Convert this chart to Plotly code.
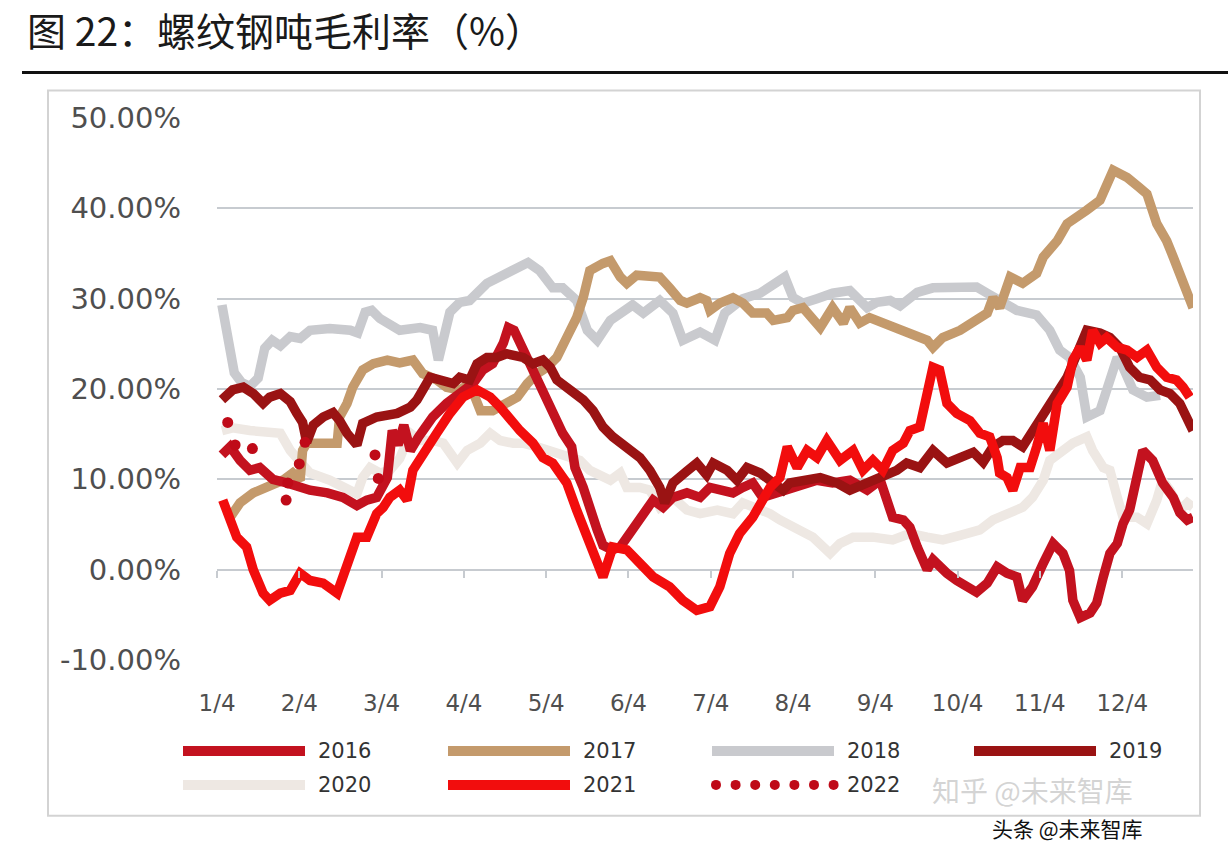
import plotly.graph_objects as go

# ---------------- data (percent) ----------------
month_labels = ["1/4", "2/4", "3/4", "4/4", "5/4", "6/4", "7/4", "8/4", "9/4", "10/4", "11/4", "12/4"]
month_pos = list(range(12))
y_tickvals = [-10, 0, 10, 20, 30, 40, 50]
y_ticktext = ["-10.00%", "0.00%", "10.00%", "20.00%", "30.00%", "40.00%", "50.00%"]

x2016 = [0.06, 0.16, 0.28, 0.40, 0.52, 0.68, 0.85, 1.01, 1.13, 1.34, 1.53, 1.70, 1.82, 1.94,
         2.07, 2.13, 2.20, 2.27, 2.35, 2.45,
         2.62, 2.79, 2.95, 3.11, 3.23, 3.35, 3.48, 3.54, 3.61, 3.68,
         3.77, 3.89, 3.99, 4.08, 4.20, 4.31, 4.35, 4.45, 4.53, 4.62,
         4.69, 4.80, 4.90, 5.05, 5.18, 5.30, 5.42, 5.54, 5.71, 5.87,
         5.99, 6.11, 6.27, 6.39, 6.51, 6.63, 6.80, 6.93, 7.08, 7.29,
         7.48, 7.69, 7.90, 8.06, 8.14, 8.21, 8.34, 8.42, 8.51, 8.63,
         8.70, 8.78, 8.87, 8.99, 9.11, 9.23, 9.36, 9.48, 9.60, 9.72,
         9.79, 9.91, 10.04, 10.16, 10.28, 10.36, 10.40, 10.49, 10.61, 10.69,
         10.77, 10.85, 10.94, 11.01, 11.09, 11.18, 11.25, 11.37, 11.49, 11.62,
         11.70, 11.79, 11.86]
y2016 = [12.7, 13.6, 12.1, 11.0, 11.3, 10.0, 9.6, 9.1, 8.8, 8.5, 8.0, 7.1, 7.7, 8.0,
         10.2, 15.4, 13.8, 16.0, 13.2, 14.7,
         16.9, 18.4, 19.5, 20.6, 22.1, 22.8, 25.1, 26.8, 26.5, 25.1,
         23.5, 21.3, 19.5, 17.3, 15.1, 13.6, 11.3, 9.1, 6.6, 4.4,
         2.7, 2.2, 2.5, 4.4, 6.3, 7.7, 6.9, 8.0, 8.5, 8.0,
         9.1, 8.8, 8.5, 9.1, 9.6, 8.0, 8.5, 8.8, 9.3, 9.9,
         9.6, 9.9, 8.8, 9.9, 7.7, 5.8, 5.5, 4.7, 2.5, 0.0,
         1.1, 0.3, -0.4, -1.2, -1.9, -2.5, -1.5, 0.3, -0.4, -0.8,
         -3.4, -1.9, 0.7, 2.9, 1.8, -0.1, -3.4, -5.3, -4.8, -3.7,
         -0.8, 1.8, 2.9, 5.1, 6.6, 10.2, 13.2, 12.1, 9.6, 8.0,
         6.3, 5.5, 5.8]

x2017 = [0.16, 0.28, 0.44, 0.61, 0.80, 0.92, 1.01, 1.04, 1.09, 1.25,
         1.46, 1.49, 1.58, 1.65, 1.77, 1.90, 2.07, 2.22, 2.38, 2.50,
         2.67, 2.79, 2.95, 3.07, 3.20, 3.35, 3.52, 3.65, 3.77, 3.89,
         4.01, 4.13, 4.25, 4.37, 4.45, 4.53, 4.69, 4.78, 4.90, 4.98,
         5.10, 5.22, 5.38, 5.50, 5.63, 5.71, 5.87, 5.95, 5.99, 6.11,
         6.27, 6.39, 6.51, 6.68, 6.76, 6.93, 7.00, 7.12, 7.24, 7.33,
         7.48, 7.61, 7.69, 7.81, 7.93, 8.09, 8.30, 8.46, 8.63, 8.70,
         8.82, 9.03, 9.19, 9.36, 9.43, 9.51, 9.64, 9.79, 9.96, 10.04,
         10.21, 10.33, 10.57, 10.73, 10.89, 11.06, 11.21, 11.30, 11.42, 11.54,
         11.62, 11.70, 11.79, 11.86]
y2017 = [5.8, 7.4, 8.5, 9.2, 9.9, 10.7, 9.9, 13.2, 14.0, 14.0,
         14.0, 16.9, 18.4, 20.2, 22.1, 22.8, 23.2, 22.9, 23.2, 21.7,
         21.0, 20.2, 19.9, 20.6, 17.6, 17.6, 18.4, 19.1, 20.6, 21.7,
         22.4, 23.5, 25.7, 27.9, 30.1, 33.1, 33.9, 34.2, 32.4, 31.7,
         32.6, 32.6, 32.4, 31.2, 29.8, 29.5, 30.1, 29.8, 28.7, 29.5,
         30.1, 29.5, 28.4, 28.4, 27.6, 27.9, 28.7, 29.0, 27.9, 26.8,
         29.0, 27.3, 29.0, 27.3, 27.9, 27.3, 26.5, 25.9, 25.4, 24.6,
         25.7, 26.5, 27.3, 28.4, 30.1, 29.0, 32.4, 31.7, 32.8, 34.6,
         36.4, 38.3, 39.8, 40.9, 44.2, 43.4, 42.3, 41.6, 38.3, 36.4,
         34.6, 32.8, 31.2, 29.0]

x2018 = [0.06, 0.13, 0.21, 0.30, 0.40, 0.50, 0.58, 0.67, 0.77, 0.89,
         1.01, 1.13, 1.37, 1.62, 1.71, 1.80, 1.88, 1.98, 2.10, 2.22,
         2.47, 2.62, 2.69, 2.83, 2.95, 3.07, 3.28, 3.56, 3.78, 3.92,
         4.08, 4.20, 4.37, 4.50, 4.62, 4.78, 4.90, 5.05, 5.18, 5.38,
         5.54, 5.66, 5.87, 6.05, 6.17, 6.39, 6.60, 6.80, 6.90, 7.00,
         7.12, 7.29, 7.48, 7.69, 7.90, 8.02, 8.18, 8.30, 8.51, 8.70,
         8.99, 9.23, 9.36, 9.51, 9.72, 9.96, 10.12, 10.24, 10.36, 10.49,
         10.57, 10.73, 10.85, 10.94, 11.01, 11.13, 11.30, 11.46]
y2018 = [29.3, 25.4, 21.8, 20.7, 20.3, 21.2, 24.5, 25.4, 24.8, 25.8,
         25.6, 26.5, 26.7, 26.5, 26.2, 28.5, 28.7, 27.8, 27.0, 26.5,
         26.8, 26.5, 23.2, 28.5, 29.6, 29.8, 31.7, 33.1, 34.0, 33.1,
         31.2, 31.2, 29.8, 26.5, 25.4, 27.6, 28.4, 29.3, 28.4, 29.8,
         28.4, 25.4, 26.3, 25.4, 28.4, 30.0, 30.6, 31.7, 32.4, 30.1,
         29.5, 30.0, 30.6, 30.9, 29.0, 29.6, 29.8, 29.2, 30.7, 31.2,
         31.3, 31.3, 30.6, 29.8, 28.7, 28.2, 26.5, 24.3, 23.5, 21.3,
         16.9, 17.6, 20.6, 23.5, 22.4, 19.9, 19.1, 19.3]

x2019 = [0.06, 0.19, 0.32, 0.44, 0.56, 0.64, 0.77, 0.89, 0.97, 1.04,
         1.09, 1.17, 1.29, 1.41, 1.49, 1.58, 1.70, 1.77, 1.94, 2.19,
         2.35, 2.43, 2.59, 2.71, 2.87, 2.95, 3.07, 3.16, 3.28, 3.40,
         3.52, 3.72, 3.84, 3.96, 4.05, 4.13, 4.25, 4.37, 4.45, 4.57,
         4.69, 4.81, 4.98, 5.14, 5.26, 5.38, 5.44, 5.54, 5.71, 5.83,
         5.95, 6.03, 6.20, 6.32, 6.44, 6.60, 6.76, 6.88, 6.96, 7.12,
         7.33, 7.53, 7.69, 7.90, 8.09, 8.26, 8.38, 8.54, 8.70, 8.87,
         9.03, 9.19, 9.31, 9.43, 9.55, 9.67, 9.79, 9.91, 10.04, 10.21,
         10.33, 10.45, 10.57, 10.73, 10.85, 10.97, 11.09, 11.21, 11.34, 11.46,
         11.58, 11.70, 11.79, 11.86]
y2019 = [18.8, 19.9, 20.2, 19.5, 18.4, 19.1, 19.5, 18.6, 17.3, 16.3,
         14.1, 16.0, 16.9, 17.4, 16.5, 15.1, 13.8, 16.2, 16.9, 17.3,
         18.0, 18.8, 21.3, 21.0, 20.6, 21.3, 21.0, 22.8, 23.5, 23.5,
         23.9, 23.5, 22.8, 23.2, 22.4, 21.0, 20.2, 19.5, 18.8, 17.6,
         15.8, 14.7, 13.6, 12.4, 11.0, 9.1, 7.4, 9.6, 10.9, 11.8,
         10.5, 11.8, 11.0, 9.9, 11.3, 10.7, 9.6, 8.8, 9.6, 9.9,
         10.2, 9.6, 8.8, 9.6, 10.2, 11.0, 11.8, 11.3, 13.2, 11.8,
         12.4, 13.0, 11.9, 13.6, 14.3, 14.3, 13.6, 15.4, 17.3, 19.5,
         21.3, 23.9, 26.5, 26.2, 25.7, 24.6, 22.4, 21.3, 21.0, 19.9,
         19.5, 18.4, 16.9, 15.4]

x2020 = [0.06, 0.19, 0.40, 0.56, 0.77, 0.89, 1.01, 1.13, 1.37, 1.58,
         1.70, 1.77, 1.86, 1.98, 2.10, 2.22, 2.35, 2.47, 2.62, 2.75,
         2.92, 3.04, 3.20, 3.32, 3.44, 3.60, 3.72, 3.89, 4.01, 4.17,
         4.29, 4.41, 4.53, 4.65, 4.78, 4.90, 4.98, 5.14, 5.26, 5.38,
         5.54, 5.71, 5.87, 6.08, 6.27, 6.39, 6.56, 6.72, 6.84, 7.00,
         7.17, 7.24, 7.45, 7.57, 7.73, 7.97, 8.21, 8.42, 8.63, 8.82,
         9.03, 9.27, 9.43, 9.64, 9.79, 9.91, 10.04, 10.12, 10.24, 10.40,
         10.57, 10.64, 10.77, 10.85, 10.94, 11.01, 11.18, 11.30, 11.42, 11.49,
         11.58, 11.70, 11.79, 11.86]
y2020 = [15.4, 15.7, 15.4, 15.3, 15.1, 13.2, 11.8, 10.7, 9.9, 9.1,
         8.4, 10.2, 11.3, 10.7, 11.0, 12.3, 15.1, 14.3, 14.3, 14.0,
         11.8, 13.2, 14.0, 15.1, 14.3, 14.0, 14.0, 13.6, 13.2, 12.9,
         12.4, 12.1, 11.0, 10.5, 9.9, 10.7, 9.1, 9.1, 8.8, 6.9,
         8.0, 6.6, 6.2, 6.6, 6.2, 7.4, 6.9, 6.2, 5.5, 4.7,
         3.8, 3.6, 1.8, 2.9, 3.6, 3.6, 3.3, 4.0, 3.6, 3.3,
         3.8, 4.4, 5.5, 6.2, 6.9, 8.0, 9.9, 12.1, 12.9, 14.0,
         14.7, 13.2, 11.3, 11.0, 8.0, 5.8, 5.8, 5.1, 7.7, 9.9,
         8.8, 6.6, 7.4, 6.9]

x2021 = [0.07, 0.16, 0.24, 0.36, 0.44, 0.56, 0.64, 0.77, 0.89, 1.01,
         1.13, 1.29, 1.46, 1.53, 1.62, 1.70, 1.82, 1.90, 1.94, 2.02,
         2.10, 2.22, 2.31, 2.38, 2.55, 2.67, 2.83, 2.99, 3.16, 3.32,
         3.44, 3.56, 3.68, 3.84, 3.96, 4.08, 4.25, 4.37, 4.50, 4.62,
         4.69, 4.81, 4.98, 5.14, 5.30, 5.50, 5.66, 5.83, 5.99, 6.11,
         6.23, 6.35, 6.51, 6.63, 6.72, 6.84, 6.93, 7.05, 7.17, 7.29,
         7.41, 7.57, 7.73, 7.85, 7.97, 8.09, 8.21, 8.34, 8.42, 8.54,
         8.63, 8.70, 8.78, 8.87, 8.99, 9.15, 9.27, 9.39, 9.48, 9.51,
         9.60, 9.67, 9.76, 9.88, 9.96, 10.04, 10.12, 10.21, 10.33, 10.40,
         10.49, 10.57, 10.64, 10.73, 10.81, 10.94, 11.06, 11.18, 11.30, 11.42,
         11.54, 11.66, 11.74, 11.82]
y2021 = [7.7, 5.8, 3.6, 2.5, 0.0, -2.6, -3.4, -2.6, -2.3, -0.4,
         -1.2, -1.5, -2.6, -0.8, 1.8, 3.6, 3.6, 5.1, 6.2, 6.9,
         8.0, 8.8, 7.7, 11.0, 13.2, 15.1, 17.3, 19.1, 19.9, 19.1,
         18.0, 16.5, 15.4, 14.0, 12.4, 11.8, 9.6, 6.6, 3.6, 1.1,
         -0.8, 2.5, 2.2, 0.7, -0.8, -1.9, -3.4, -4.5, -4.1, -1.9,
         1.8, 4.0, 5.8, 7.7, 9.1, 10.2, 13.6, 11.3, 13.2, 12.4,
         14.3, 12.1, 13.2, 11.0, 12.1, 11.0, 13.2, 14.0, 15.4, 15.8,
         19.9, 22.4, 22.1, 18.4, 17.3, 16.5, 15.1, 14.7, 12.4, 10.7,
         10.2, 8.8, 11.3, 11.3, 13.6, 16.2, 13.2, 18.4, 20.2, 23.2,
         24.6, 23.2, 26.5, 25.1, 25.7, 24.6, 24.3, 23.5, 24.3, 22.4,
         21.3, 21.0, 20.2, 19.1]

x2022 = [0.13, 0.22, 0.43, 0.84, 0.86, 1.00, 1.07, 1.92, 1.96]
y2022 = [16.3, 13.8, 13.4, 7.7, 9.6, 11.7, 14.1, 12.7, 10.1]

series_colors = {"2016": "#C3121F", "2017": "#C49A6C", "2018": "#C9CACE", "2019": "#9A1313",
                 "2020": "#EEE8E3", "2021": "#F20D0D", "2022": "#BF0A18"}
series_data = {"2016": (x2016, y2016), "2017": (x2017, y2017), "2018": (x2018, y2018),
               "2019": (x2019, y2019), "2020": (x2020, y2020), "2021": (x2021, y2021)}

# ---------------- layout geometry (pixels) ----------------
W, H = 1228, 844
PL, PR, PT, PB = 217, 1193, 117.5, 660
XMIN, XMAX = 0.0, 11.86
YMIN, YMAX = -10, 50


def px(x):
    return (x - PL) / (PR - PL)


def py(y):
    return (PB - y) / (PB - PT)


fig = go.Figure()

draw_order = ["2020", "2018", "2017", "2016", "2019", "2021"]
for name in draw_order:
    xs, ys = series_data[name]
    fig.add_trace(go.Scatter(x=xs, y=ys, mode="lines", name=name,
                             line=dict(color=series_colors[name], width=9.5),
                             showlegend=False, hoverinfo="skip"))

fig.add_trace(go.Scatter(x=x2022, y=y2022, mode="markers", name="2022",
                         marker=dict(color=series_colors["2022"], size=11),
                         xaxis="x2", showlegend=False, hoverinfo="skip"))

grid_col = "#C7CBD0"
tick_font = dict(family="DejaVu Sans", size=23, color="#4F4F4F")

fig.update_layout(
    template="none",
    width=W, height=H,
    margin=dict(l=PL, r=W - PR, t=PT, b=H - PB, pad=0, autoexpand=False),
    paper_bgcolor="white", plot_bgcolor="white",
    showlegend=False,
    xaxis=dict(range=[XMIN, XMAX], tickmode="array", tickvals=month_pos, ticktext=month_labels,
               showgrid=False, zeroline=False, showline=False, ticks="",
               tickfont=tick_font, ticklabelstandoff=27),
    xaxis2=dict(range=[XMIN, XMAX], overlaying="x", anchor="free",
                position=(0 - YMIN) / (YMAX - YMIN), side="bottom",
                tickmode="array", tickvals=month_pos, showticklabels=False,
                ticks="outside", ticklen=7, tickwidth=1.5, tickcolor=grid_col,
                showgrid=False, zeroline=False, showline=False),
    yaxis=dict(range=[YMIN, YMAX], tickmode="array", tickvals=y_tickvals, ticktext=y_ticktext,
               showgrid=True, gridcolor=grid_col, gridwidth=1.5, zeroline=False, showline=False,
               ticks="", tickfont=dict(family="DejaVu Sans", size=29, color="#4F4F4F"),
               ticklabelstandoff=35),
)

shapes = []
# chart frame
shapes.append(dict(type="rect", xref="paper", yref="paper", x0=px(48), x1=px(1200), y0=py(816), y1=py(90),
                   line=dict(color="#D3D3D3", width=2), fillcolor="rgba(0,0,0,0)", layer="below"))
# rule under title
shapes.append(dict(type="line", xref="paper", yref="paper", x0=px(22), x1=px(1228), y0=py(72), y1=py(72),
                   line=dict(color="#111111", width=3)))

annotations = []
annotations.append(dict(text="图 22：螺纹钢吨毛利率（%）", xref="paper", yref="paper", x=px(25), y=py(28),
                        xanchor="left", yanchor="middle", showarrow=False,
                        font=dict(family="Noto Sans CJK SC", size=39, color="#1A1A1A")))

# legend (drawn manually to match the long sample lines)
legend_items = [("2016", 183, 751), ("2017", 448, 751), ("2018", 712, 751), ("2019", 974, 751),
                ("2020", 183, 785), ("2021", 448, 785), ("2022", 712, 785)]
for name, lx, ly in legend_items:
    col = series_colors[name]
    if name == "2022":
        for i in range(7):
            cx = lx + 4 + i * 19.6
            shapes.append(dict(type="circle", xref="paper", yref="paper",
                               x0=px(cx - 5), x1=px(cx + 5), y0=py(ly + 5), y1=py(ly - 5),
                               fillcolor=col, line=dict(width=0)))
    else:
        shapes.append(dict(type="line", xref="paper", yref="paper", x0=px(lx), x1=px(lx + 122),
                           y0=py(ly), y1=py(ly), line=dict(color=col, width=10)))
    annotations.append(dict(text=name, xref="paper", yref="paper", x=px(lx + 133), y=py(ly),
                            xanchor="left", yanchor="middle", showarrow=False,
                            font=dict(family="DejaVu Sans", size=21, color="#333333")))

# watermarks
annotations.append(dict(text="知乎 @未来智库", xref="paper", yref="paper", x=px(930), y=py(790),
                        xanchor="left", yanchor="middle", showarrow=False,
                        font=dict(family="Noto Sans CJK SC", size=28, color="rgba(205,205,205,0.85)")))
annotations.append(dict(text="头条 @未来智库", xref="paper", yref="paper", x=px(990), y=py(828),
                        xanchor="left", yanchor="middle", showarrow=False,
                        font=dict(family="Noto Sans CJK SC", size=21, color="#111111")))

fig.update_layout(shapes=shapes, annotations=annotations)

fig.write_html("out.html")
